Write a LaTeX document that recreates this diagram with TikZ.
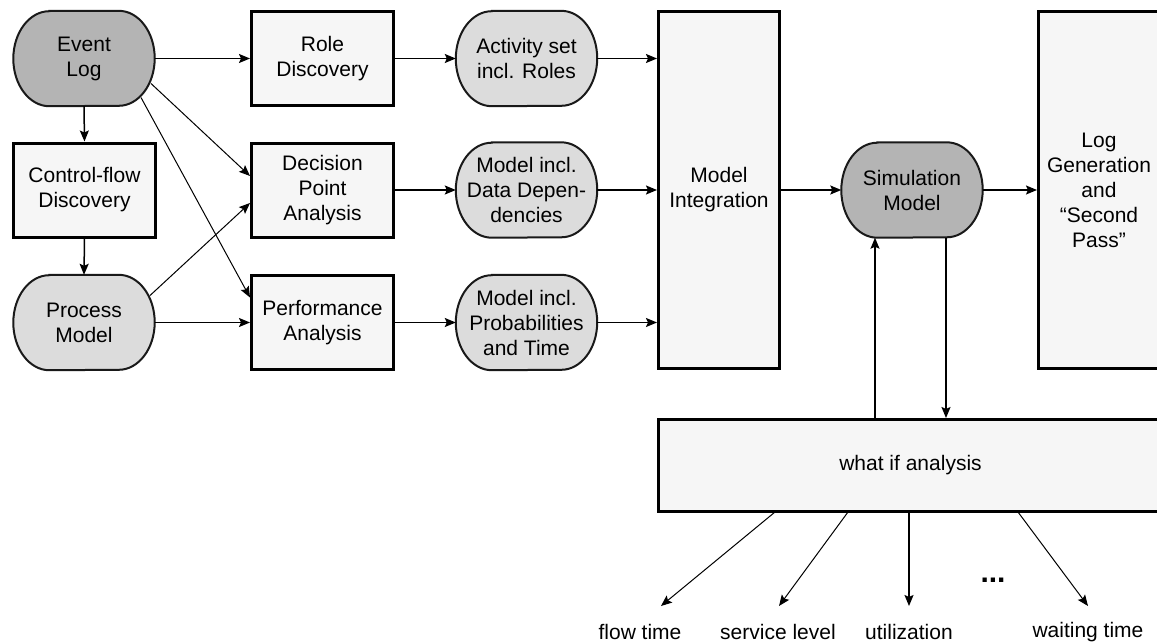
\documentclass[tikz,border=0pt]{standalone}
\usepackage{fontspec}
\setmainfont{Liberation Sans}
\usetikzlibrary{arrows.meta,calc,backgrounds}
\definecolor{gdark}{HTML}{B4B4B4}
\definecolor{glight}{HTML}{DCDCDC}
\definecolor{boxfill}{HTML}{F6F6F6}
\newcommand\lbl{\fontsize{21}{25}\selectfont}
\tikzset{
  rectbox/.style={draw=black, line width=3pt, fill=boxfill, minimum width=142pt, minimum height=94pt, inner sep=0pt, align=center, font=\lbl},
  pillnode/.style={minimum width=141pt, minimum height=95pt, inner sep=0pt, align=center, font=\lbl},
  pillline/.style={draw=black!90, line width=2pt},
  arr/.style={-{Stealth[length=11pt,width=9pt,inset=2pt]}, line width=1.5pt},
  thinarr/.style={-{Stealth[length=11pt,width=9pt,inset=2pt]}, line width=1pt},
  outlbl/.style={font=\lbl, inner sep=0pt}
}
\newcommand\pilldraw[2]{%
  \draw[pillline, fill=#2] ($(#1.north west)+(36,0)$) -- ($(#1.north east)+(-36,0)$)
    arc[start angle=90, end angle=-90, x radius=36pt, y radius=47.5pt]
    -- ($(#1.south west)+(36,0)$)
    arc[start angle=270, end angle=90, x radius=36pt, y radius=47.5pt] -- cycle;}
\begin{document}
\begin{tikzpicture}[x=1pt,y=-1pt]
\useasboundingbox (0,0) rectangle (1157,643);
% nodes
\node[pillnode] (E) at (84,58.5) {Event\\Log};
\node[rectbox] (CF) at (84.5,190) {Control-flow\\Discovery};
\node[pillnode] (PM) at (84,322.5) {Process\\Model};
\node[rectbox] (RD) at (322.5,58.5) {Role\\Discovery};
\node[rectbox] (DP) at (322.5,190) {Decision\\Point\\Analysis};
\node[rectbox] (PA) at (322.5,322.5) {Performance\\Analysis};
\node[pillnode] (AS) at (526.5,58.5) {Activity set\\incl. Roles};
\node[pillnode] (DD) at (526.5,190) {Model incl.\\Data Depen-\\dencies};
\node[pillnode] (PR) at (526.5,322.5) {Model incl.\\Probabilities\\and Time};
\node[rectbox, minimum width=121pt, minimum height=357pt] (MI) at (719,190) {Model\\Integration};
\node[pillnode] (SM) at (912,190) {Simulation\\Model};
\node[rectbox, minimum width=121pt, minimum height=357pt] (LG) at (1099,190) {Log\\Generation\\and\\“Second\\Pass”};
\node[rectbox, minimum width=504pt, minimum height=92pt] (WI) at (910.5,465.5) {what if analysis};
\node[outlbl] (FT) at (640,632) {flow time};
\node[outlbl] (SL) at (778,632) {service level};
\node[outlbl] (UT) at (909,632) {utilization};
\node[outlbl] (WT) at (1088,632) {waiting time};
\node[outlbl, font=\fontsize{30}{30}\selectfont\bfseries] (DT) at (993,580) {...};
% pills
\begin{pgfonlayer}{background}
\pilldraw{E}{gdark}
\pilldraw{PM}{glight}
\pilldraw{AS}{glight}
\pilldraw{DD}{glight}
\pilldraw{PR}{glight}
\pilldraw{SM}{gdark}
\end{pgfonlayer}
% straight connectors
\draw[arr] (E.east) -- (RD.west);
\draw[arr] (E.south) -- (CF.north);
\draw[arr] (CF.south) -- (PM.north);
\draw[arr] (PM.east) -- (PA.west);
\draw[arr] (RD.east) -- (AS.west);
\draw[arr] (DP.east) -- (DD.west);
\draw[arr] (PA.east) -- (PR.west);
\draw[arr] (AS.east) -- (AS.east -| MI.west);
\draw[arr] (DD.east) -- (DD.east -| MI.west);
\draw[arr] (PR.east) -- (PR.east -| MI.west);
\draw[arr] (MI.east) -- (SM.west);
\draw[arr] (SM.east) -- (SM.east -| LG.west);
% diagonals
\coordinate (e1) at ($(E.center)+(67,25)$);
\coordinate (e2) at ($(E.center)+(57,39)$);
\coordinate (p1) at ($(PM.center)+(66,-27)$);
\coordinate (dp1) at ($(DP.west)+(0,-14)$);
\coordinate (dp2) at ($(DP.west)+(0,13)$);
\coordinate (pa1) at ($(PA.west)+(0,-25)$);
\draw[thinarr] (e1) -- (dp1);
\draw[thinarr] (e2) -- (pa1);
\draw[thinarr] (p1) -- (dp2);
% simulation loop
\coordinate (su) at ($(SM.south)+(-37,0)$);
\coordinate (sd) at ($(SM.south)+(34,0)$);
\draw[arr] (su |- WI.north) -- (su);
\draw[arr] (sd) -- (sd |- WI.north);
% outputs
\coordinate (o1) at (775,512);
\coordinate (o2) at (848,512);
\coordinate (o3) at (909,512);
\coordinate (o4) at (1018,512);
\coordinate (t1) at (661,606);
\coordinate (t2) at (779,606);
\coordinate (t3) at (909,606);
\coordinate (t4) at (1088,606);
\draw[thinarr] (o1) -- (t1);
\draw[thinarr] (o2) -- (t2);
\draw[arr] (o3) -- (t3);
\draw[thinarr] (o4) -- (t4);
\end{tikzpicture}
\end{document}
